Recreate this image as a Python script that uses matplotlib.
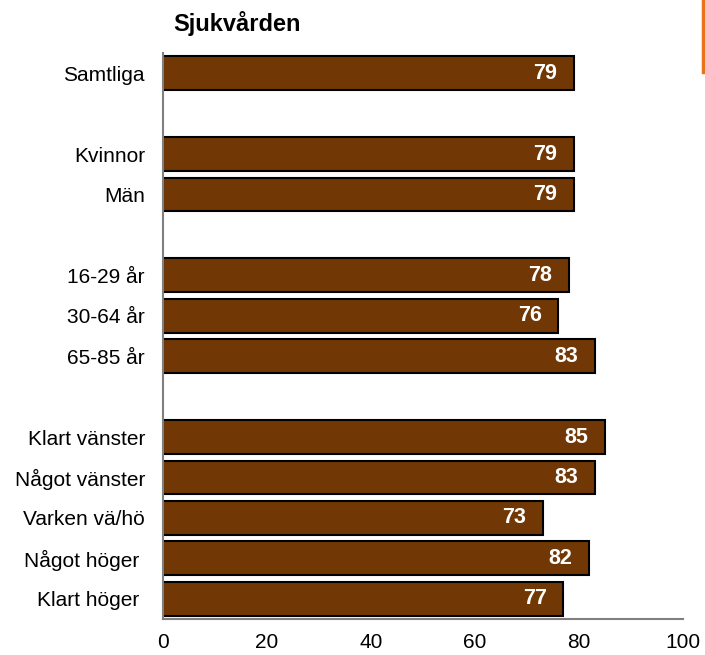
import numpy as np
import matplotlib
matplotlib.use('Agg')
import matplotlib.pyplot as plt
from matplotlib.lines import Line2D

plt.rcParams['font.family'] = ['Liberation Sans', 'DejaVu Sans']

# Data (None = blank spacer row)
labels = ['Samtliga', '', 'Kvinnor', 'Män', '', '16-29 år', '30-64 år', '65-85 år', '',
          'Klart vänster', 'Något vänster', 'Varken vä/hö', 'Något höger ', 'Klart höger ']
values = [79, None, 79, 79, None, 78, 76, 83, None, 85, 83, 73, 82, 77]
title = 'Sjukvården'
xticks = [0, 20, 40, 60, 80, 100]

barColor = '#713805'
axisColor = '#808080'

fig = plt.figure(figsize=(7.05, 6.55), dpi=100)
ax = fig.add_axes([163/705, 1 - 619/655, 520/705, 566/655])

pos = np.arange(len(labels))
for p, v in zip(pos, values):
    if v is None:
        continue
    ax.barh(p, v, height=0.84, color=barColor, edgecolor='black', linewidth=1.5, zorder=2)
    ax.annotate(str(v), xy=(v, p), xytext=(-12, 0), textcoords='offset points',
                ha='right', va='center', color='white', fontsize=15.5, fontweight='bold')

ax.set_ylim(len(labels) - 0.5, -0.5)
ax.set_xlim(0, 100)
ax.set_yticks(pos)
ax.set_yticklabels(labels, fontsize=15)
ax.set_xticks(xticks)
ax.set_xticklabels([str(t) for t in xticks], fontsize=15)
ax.tick_params(axis='y', length=0, pad=13)
ax.tick_params(axis='x', length=0, pad=10)

for s in ['top', 'right']:
    ax.spines[s].set_visible(False)
for s in ['left', 'bottom']:
    ax.spines[s].set_color(axisColor)
    ax.spines[s].set_linewidth(1.5)

fig.text(173/705, 1 - 23/655, title, fontsize=17, fontweight='bold', ha='left', va='center')

# orange marker line top right
fig.add_artist(Line2D([703/705, 703/705], [1, 1 - 72/655], color='#E8731A', linewidth=2.5))

fig.savefig('out.png', dpi=100)
